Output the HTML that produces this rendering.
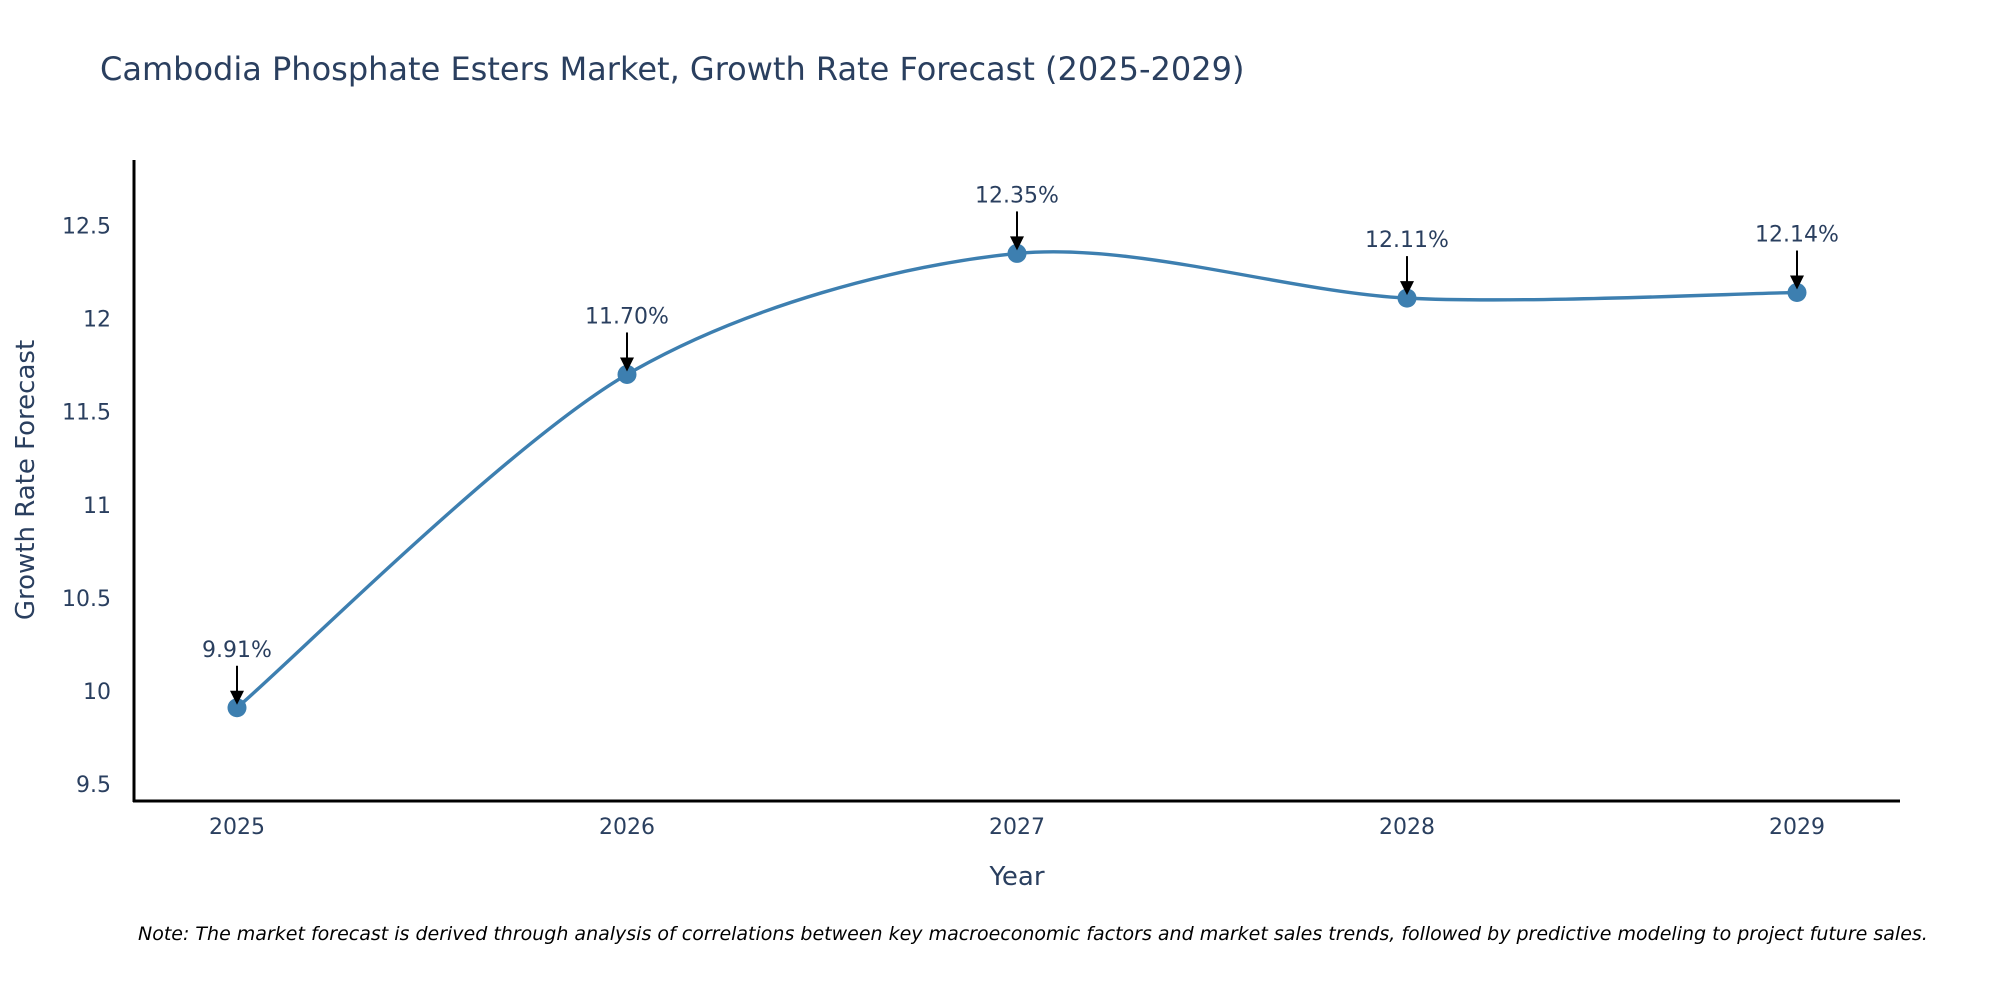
<!DOCTYPE html>
<html><head><meta charset="utf-8"><style>
body{margin:0;background:#fff}
svg{display:block;font-family:"DejaVu Sans","Liberation Sans",sans-serif}
</style></head><body>
<svg id="chart" width="2000" height="1000" viewBox="0 0 2000 1000">
<text x="100" y="80" font-size="32" fill="#2a3f5f">Cambodia Phosphate Esters Market, Growth Rate Forecast (2025-2029)</text>
<g id="yticks"></g>
<g id="xticks"></g>
<line x1="134" y1="160" x2="134" y2="802" stroke="#000" stroke-width="3"/>
<line x1="133" y1="801" x2="1900" y2="801" stroke="#000" stroke-width="3"/>
<path id="series" fill="none" stroke="#3d7fb0" stroke-width="3.4"/>
<g id="points"></g>
<g id="annots"></g>
<text x="1017" y="885" font-size="26" fill="#2a3f5f" text-anchor="middle">Year</text>
<text transform="translate(34,480) rotate(-90)" font-size="26" fill="#2a3f5f" text-anchor="middle">Growth Rate Forecast</text>
<text x="138" y="940" font-size="19" font-style="italic" fill="#000">Note: The market forecast is derived through analysis of correlations between key macroeconomic factors and market sales trends, followed by predictive modeling to project future sales.</text>
</svg>
<script>
const years = [2025, 2026, 2027, 2028, 2029];
const rates = [9.91, 11.70, 12.35, 12.11, 12.14];
const yTickValues = [9.5, 10, 10.5, 11, 11.5, 12, 12.5];
const yTickLabels = ["9.5", "10", "10.5", "11", "11.5", "12", "12.5"];

const NS = "http://www.w3.org/2000/svg";
const xScale = v => 237 + (v - 2025) * 390;
const yScale = v => 691 - (v - 10) * 186.2;
function mk(tag, attrs, parent, txt){
  const e = document.createElementNS(NS, tag);
  for (const k in attrs) e.setAttribute(k, attrs[k]);
  if (txt !== undefined) e.textContent = txt;
  parent.appendChild(e); return e;
}
const yt = document.getElementById('yticks');
yTickValues.forEach((v, i) => {
  const t = mk('text', {x: 111, y: yScale(v) + 8, 'font-size': 22, fill: '#2a3f5f', 'text-anchor': 'end'}, yt, yTickLabels[i]);
  
  
});
const xt = document.getElementById('xticks');
years.forEach(y => {
  const t = mk('text', {x: xScale(y), y: 834, 'font-size': 22, fill: '#2a3f5f', 'text-anchor': 'middle'}, xt, String(y));
  
  
});
const pts = years.map((y, i) => [xScale(y), yScale(rates[i])]);
let d = `M${pts[0][0]},${pts[0][1]}`;
for (let i = 0; i < pts.length - 1; i++) {
  const p0 = pts[Math.max(0, i - 1)], p1 = pts[i], p2 = pts[i + 1], p3 = pts[Math.min(pts.length - 1, i + 2)];
  const t = 0.15;
  const c1 = [p1[0] + (p2[0] - p0[0]) * t, p1[1] + (p2[1] - p0[1]) * t];
  const c2 = [p2[0] - (p3[0] - p1[0]) * t, p2[1] - (p3[1] - p1[1]) * t];
  d += ` C${c1[0]},${c1[1]} ${c2[0]},${c2[1]} ${p2[0]},${p2[1]}`;
}
document.getElementById('series').setAttribute('d', d);
const pg = document.getElementById('points'), ag = document.getElementById('annots');
pts.forEach((p, i) => {
  const c = mk('circle', {cx: p[0], cy: p[1], r: 9.5, fill: '#3d7fb0'}, pg);
  
  
  const l = mk('line', {x1: p[0], y1: p[1] - 42, x2: p[0], y2: p[1] - 14, stroke: '#000', 'stroke-width': 2}, ag);
  
  
  const h = mk('path', {d: `M${p[0]-7},${p[1]-17} L${p[0]+7},${p[1]-17} L${p[0]},${p[1]-3} Z`, fill: '#000'}, ag);
  
  
  const t = mk('text', {x: p[0], y: p[1] - 51, 'font-size': 22, fill: '#2a3f5f', 'text-anchor': 'middle'}, ag, rates[i].toFixed(2) + '%');
  
  
});
</script>
</body></html>
